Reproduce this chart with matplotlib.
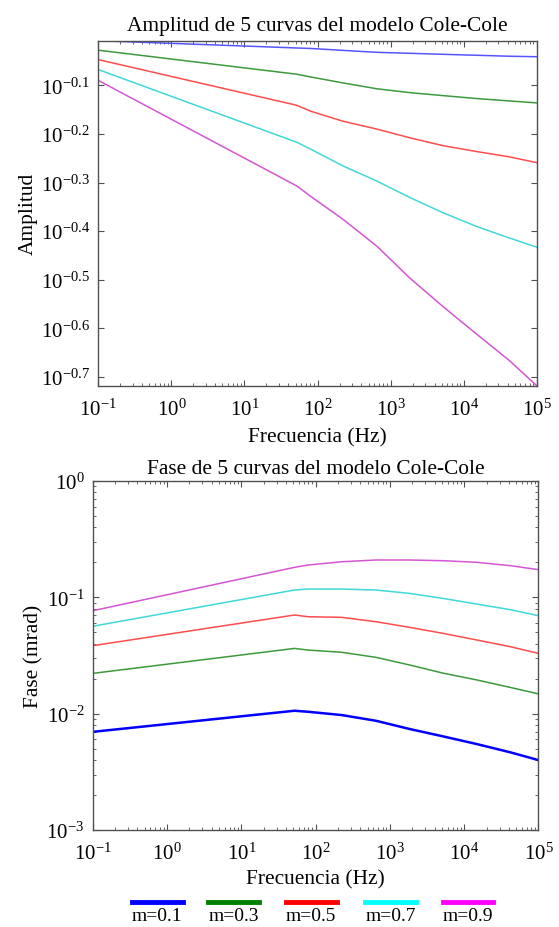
import numpy as np
import matplotlib
matplotlib.use('Agg')
import matplotlib.pyplot as plt
from matplotlib.ticker import FixedLocator, FuncFormatter, NullLocator, LogLocator
from matplotlib.lines import Line2D

plt.rcParams['font.family'] = ['Liberation Serif', 'DejaVu Serif']
plt.rcParams['mathtext.fontset'] = 'custom'
plt.rcParams['mathtext.rm'] = 'Liberation Serif'
plt.rcParams['mathtext.it'] = 'Liberation Serif:italic'
plt.rcParams['mathtext.bf'] = 'Liberation Serif:bold'

# frecuencias (Hz)
freq = [0.1, 52, 80, 225, 650, 1850, 5200, 14800, 42000, 1e5]

labels = ['m=0.1', 'm=0.3', 'm=0.5', 'm=0.7', 'm=0.9']
colors = ['#0000ff', '#008000', '#ff0000', '#00ffff', '#ff00ff']
plot_colors = ['#5555ff', '#3c9a3c', '#ff4d4d', '#40d8d8', '#d456d4']

# amplitud
amp_01 = [0.9818, 0.9484, 0.9462, 0.9376, 0.9290, 0.9247, 0.9204, 0.9162, 0.9120, 0.9099]
amp_03 = [0.9384, 0.8375, 0.8268, 0.8035, 0.7816, 0.7674, 0.7568, 0.7464, 0.7379, 0.7311]
amp_05 = [0.8974, 0.7228, 0.7031, 0.6699, 0.6457, 0.6194, 0.5970, 0.5808, 0.5662, 0.5508]
amp_07 = [0.8560, 0.6067, 0.5875, 0.5420, 0.5047, 0.4667, 0.4345, 0.4074, 0.3855, 0.3690]
amp_09 = [0.8132, 0.4932, 0.4699, 0.4207, 0.3707, 0.3184, 0.2786, 0.2449, 0.2158, 0.1914]

# fase (mrad)
fase_01 = [0.00698, 0.0106, 0.01038, 0.00973, 0.00869, 0.00738, 0.00638, 0.00548, 0.00465, 0.00399]
fase_03 = [0.0222, 0.0364, 0.0352, 0.0337, 0.0305, 0.0262, 0.0223, 0.0195, 0.0168, 0.0148]
fase_05 = [0.0384, 0.0705, 0.0681, 0.0673, 0.0617, 0.0552, 0.0490, 0.0430, 0.0376, 0.0330]
fase_07 = [0.0564, 0.1156, 0.1178, 0.1178, 0.1156, 0.1081, 0.0979, 0.0875, 0.0783, 0.0695]
fase_09 = [0.0767, 0.1811, 0.1897, 0.2023, 0.2094, 0.2094, 0.2065, 0.2000, 0.1871, 0.1730]

amps = [amp_01, amp_03, amp_05, amp_07, amp_09]
fases = [fase_01, fase_03, fase_05, fase_07, fase_09]

fig = plt.figure(figsize=(5.59, 9.28), dpi=100)
ax1 = fig.add_axes([0.1759, 0.5833, 0.7842, 0.3718])
ax2 = fig.add_axes([0.1658, 0.1045, 0.7975, 0.3761])

def estilo(ax):
    for s in ax.spines.values():
        s.set_color('#505050'); s.set_linewidth(1.0)
    ax.tick_params(which='both', direction='in', top=True, right=True, colors='#505050',
                   labelcolor='black', labelsize=15)
    ax.tick_params(axis='y', which='both', pad=6)
    ax.tick_params(axis='x', which='both', pad=9)
    ax.tick_params(which='major', length=4)
    ax.tick_params(which='minor', length=2.5)
    ax.set_xscale('log')
    ax.set_xlim(0.1, 1e5)
    ax.xaxis.set_major_locator(LogLocator(base=10, numticks=10))
    ax.xaxis.set_minor_locator(LogLocator(base=10, subs=np.arange(2, 10), numticks=20))

# ---- amplitud ----
for y, c in zip(amps, plot_colors):
    ax1.plot(freq, y, color=c, lw=1.1)
estilo(ax1)
ax1.set_yscale('log')
ax1.set_ylim(min(amp_09), max(amp_01))
ax1.yaxis.set_major_locator(FixedLocator(10 ** np.arange(-0.7, -0.05, 0.1)))
ax1.yaxis.set_major_formatter(FuncFormatter(lambda v, p: r'$10^{%.1f}$' % np.log10(v)))
ax1.yaxis.set_minor_locator(NullLocator())
ax1.set_title('Amplitud de 5 curvas del modelo Cole-Cole', fontsize=15.4, pad=8)
ax1.set_xlabel('Frecuencia (Hz)', fontsize=15.4, labelpad=6)
ax1.set_ylabel('Amplitud', fontsize=15.4, labelpad=2)

# ---- fase ----
for i, (y, c) in enumerate(zip(fases, plot_colors)):
    ax2.plot(freq, y, color=colors[0] if i == 0 else c, lw=1.8 if i == 0 else 1.1)
estilo(ax2)
ax2.set_yscale('log')
ax2.set_ylim(1e-3, 1)
ax2.yaxis.set_major_locator(LogLocator(base=10, numticks=10))
ax2.yaxis.set_minor_locator(LogLocator(base=10, subs=np.arange(2, 10), numticks=20))
ax2.set_title('Fase de 5 curvas del modelo Cole-Cole', fontsize=15.4, pad=6)
ax2.set_xlabel('Frecuencia (Hz)', fontsize=15.4, labelpad=4)
ax2.set_ylabel('Fase (mrad)', fontsize=15.4, labelpad=2)

# ---- leyenda (linea arriba, texto abajo) ----
lx = [0.2812, 0.4177, 0.5564, 0.6986, 0.8372]
for x0, c, lab in zip(lx, colors, labels):
    fig.add_artist(Line2D([x0 - 0.0456, x0 + 0.0456], [0.0265, 0.0265], color=c, lw=3.5,
                          transform=fig.transFigure))
    fig.text(x0, 0.0072, lab, ha='center', va='baseline', fontsize=14)

fig.savefig('out.png', dpi=100)
